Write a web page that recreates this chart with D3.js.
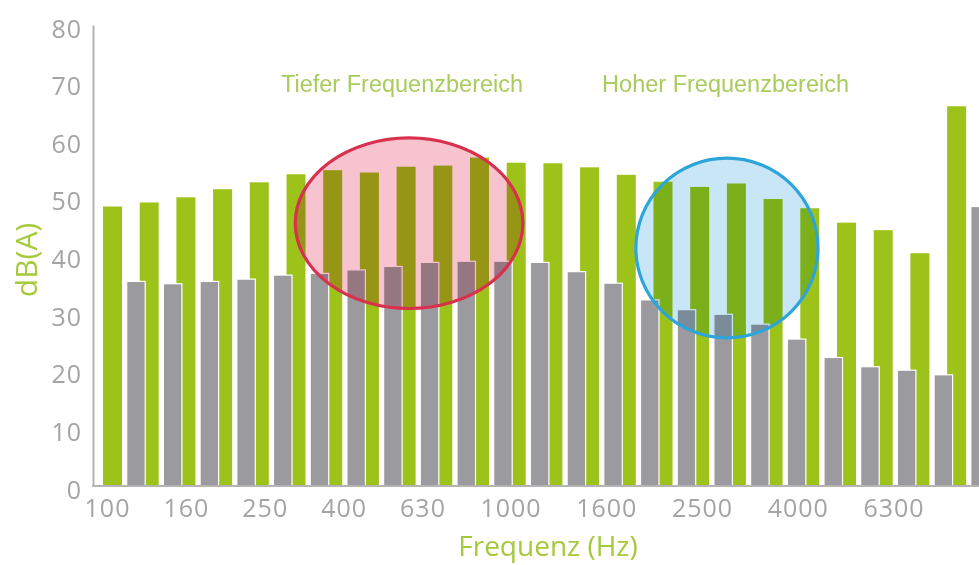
<!DOCTYPE html>
<html lang="de">
<head>
<meta charset="UTF-8">
<title>Frequenz dB(A)</title>
<script src="https://d3js.org/d3.v7.min.js"></script>
<style>
  body { margin: 0; background: #fff; }
  svg { display: block; }
  .tick-label { font-family: "Open Sans", sans-serif; font-size: 25px; fill: #a4a4a6; letter-spacing: 1px; }
  .axis-title { font-family: "Open Sans", sans-serif; fill: #a5c93a; }
  .note { font-family: "Liberation Sans", Arial, sans-serif; font-size: 23.5px; fill: #a9cc5c; }
</style>
</head>
<body>
<svg id="chart" width="979" height="565"></svg>
<script>
// 1/3-octave bands, 100 Hz .. 20 kHz
const bands = ["100","125","160","200","250","315","400","500","630","800","1000","1250",
               "1600","2000","2500","3150","4000","5000","6300","8000","10000","12500","16000","20000"];
const greenVals = [48.5, 49.2, 50.1, 51.5, 52.7, 54.1, 54.8, 54.4, 55.4, 55.6, 57.0, 56.1,
                   56.0, 55.3, 54.0, 52.8, 51.9, 52.5, 49.8, 48.2, 45.7, 44.4, 40.4, 65.9];
const greyVals  = [35.5, 35.1, 35.5, 35.9, 36.6, 36.9, 37.5, 38.1, 38.8, 39.0, 39.0, 38.8,
                   37.2, 35.2, 32.3, 30.6, 29.8, 28.1, 25.5, 22.3, 20.7, 20.1, 19.3, 48.5];
const xLabels = ["100","160","250","400","630","1000","1600","2500","4000","6300"];
const yTicks = [0, 10, 20, 30, 40, 50, 60, 70, 80];

// highlighted ranges: centre in band index / dB, radii in bands / dB
const regions = [
  {name: "Tiefer Frequenzbereich",  cx: 8.34, cy: 45.6, rx: 3.1, ry: 14.8, fill: "#f6c3cf", stroke: "#d9304e"},
  {name: "Hoher Frequenzbereich",   cx: 17.0, cy: 41.3, rx: 2.48, ry: 15.6, fill: "#c9e6f6", stroke: "#2ea5d9"}
];
const notes = [
  {text: "Tiefer Frequenzbereich", band: 4.85, value: 68.4},
  {text: "Hoher Frequenzbereich",  band: 13.6, value: 68.4}
];

const svg = d3.select("#chart");
const axisX = 93, baseY = 486;

const x = d3.scaleBand().domain(bands).range([103, 103 + 24 * 36.7]).padding(0);
const bandIdx = d3.scaleLinear().domain([0, 24]).range([103, 103 + 24 * 36.7]);
const y = d3.scaleLinear().domain([0, 80]).range([baseY, 25]);
// tick labels are not spaced evenly in the original
const xl = d3.scaleLinear().domain([0, 4, 5, 9]).range([107.5, 423, 511, 894]);

const greenW = 19, greyOff = 23.7, greyW = 18.5;

svg.append("g").selectAll("rect")
  .data(bands)
  .join("rect")
  .attr("x", d => x(d))
  .attr("width", greenW)
  .attr("y", (d, i) => y(greenVals[i]))
  .attr("height", (d, i) => baseY - y(greenVals[i]))
  .attr("fill", "#9dc31b");

svg.append("g").selectAll("rect")
  .data(bands)
  .join("rect")
  .attr("x", d => x(d) + greyOff)
  .attr("width", greyW)
  .attr("y", (d, i) => y(greyVals[i]))
  .attr("height", (d, i) => baseY - y(greyVals[i]))
  .attr("fill", "#9b9b9f")
  .attr("stroke", "#fff")
  .attr("stroke-width", 1.2);

// ellipse fills blended like the original (multiply), then outline on top
const reg = svg.append("g");
reg.selectAll("ellipse.fill")
  .data(regions)
  .join("ellipse")
  .attr("class", "fill")
  .attr("cx", d => bandIdx(d.cx))
  .attr("cy", d => y(d.cy))
  .attr("rx", d => bandIdx(d.rx) - bandIdx(0))
  .attr("ry", d => y(0) - y(d.ry))
  .attr("fill", d => d.fill)
  .style("mix-blend-mode", "multiply");
reg.selectAll("ellipse.edge")
  .data(regions)
  .join("ellipse")
  .attr("class", "edge")
  .attr("cx", d => bandIdx(d.cx))
  .attr("cy", d => y(d.cy))
  .attr("rx", d => bandIdx(d.rx) - bandIdx(0))
  .attr("ry", d => y(0) - y(d.ry))
  .attr("fill", "none")
  .attr("stroke", d => d.stroke)
  .attr("stroke-width", 3.2);

svg.selectAll("text.note")
  .data(notes)
  .join("text")
  .attr("class", "note")
  .attr("x", d => bandIdx(d.band))
  .attr("y", d => y(d.value))
  .text(d => d.text);

// axes
const yAxis = d3.axisLeft(y).tickValues(yTicks).tickSize(0).tickSizeOuter(0).tickPadding(11);
const gy = svg.append("g").attr("transform", `translate(${axisX},0)`).call(yAxis);
gy.select(".domain").attr("stroke", "#b4b4b4").attr("stroke-width", 2);
gy.selectAll(".tick text").attr("class", "tick-label").attr("y", 4).attr("font-size", null).attr("font-family", null).attr("fill", null);

svg.append("line")
  .attr("x1", axisX - 1).attr("x2", 979)
  .attr("y1", baseY).attr("y2", baseY)
  .attr("stroke", "#b4b4b4").attr("stroke-width", 2);

svg.append("g").selectAll("text")
  .data(xLabels)
  .join("text")
  .attr("class", "tick-label")
  .attr("x", (d, i) => xl(i))
  .attr("y", 517)
  .attr("text-anchor", "middle")
  .text(d => d);

svg.append("text")
  .attr("class", "axis-title")
  .attr("x", 548).attr("y", 556)
  .attr("text-anchor", "middle")
  .style("font-size", "28px")
  .text("Frequenz (Hz)");

svg.append("text")
  .attr("class", "axis-title")
  .attr("transform", "translate(37,260) rotate(-90)")
  .attr("text-anchor", "middle")
  .style("font-size", "30px")
  .text("dB(A)");
</script>
</body>
</html>
